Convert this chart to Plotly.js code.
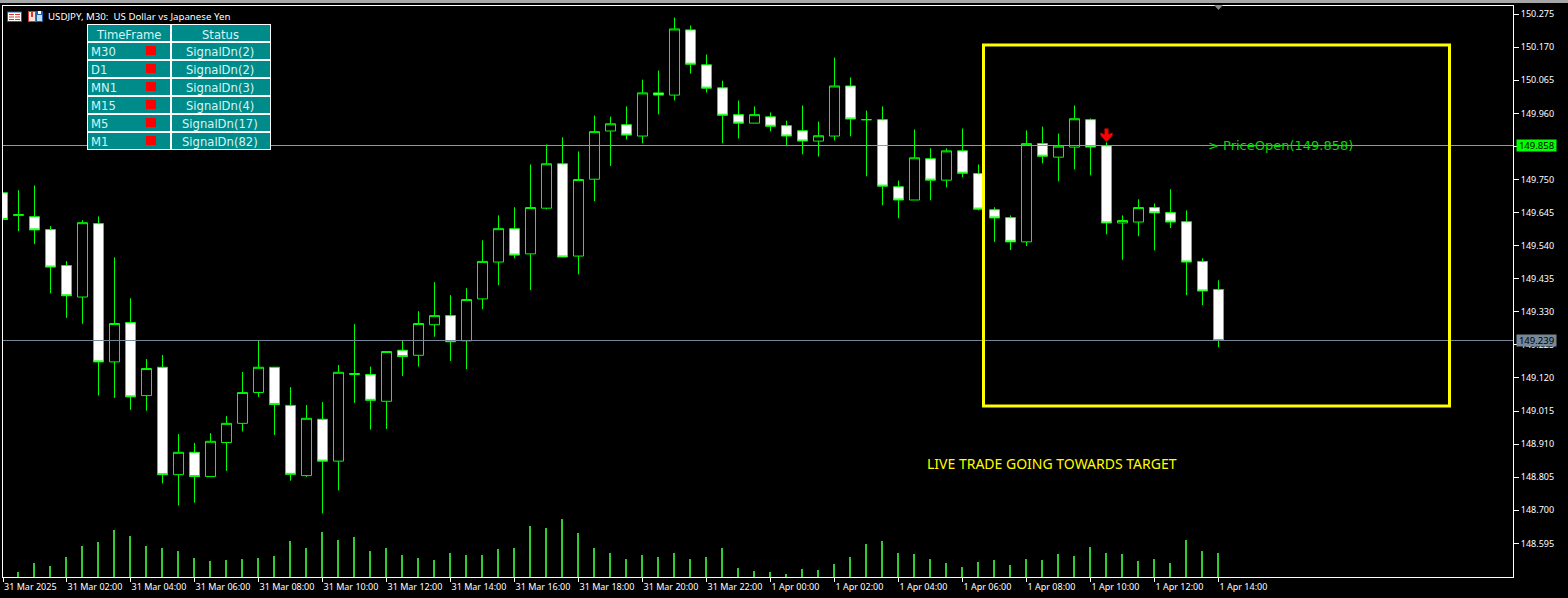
<!DOCTYPE html>
<html><head><meta charset="utf-8">
<script src="https://cdn.plot.ly/plotly-3.0.1.min.js"></script>
<style>html,body{margin:0;padding:0;background:#000;overflow:hidden}#c{width:1568px;height:598px}</style>
</head><body><div id="c"></div>
<script>
const open_ = [149.708,149.636,149.632,149.591,149.477,149.377,149.610,149.171,149.296,149.064,149.154,148.813,148.884,148.807,148.915,148.976,149.074,149.154,149.033,148.810,148.989,148.856,149.131,149.131,149.046,149.208,149.192,149.289,149.318,149.238,149.371,149.488,149.594,149.514,149.659,149.800,149.507,149.751,149.904,149.924,149.888,150.025,150.018,150.225,150.114,150.041,149.956,149.929,149.949,149.921,149.905,149.872,149.888,150.047,149.940,149.940,149.727,149.685,149.816,149.748,149.841,149.769,149.654,149.629,149.552,149.864,149.821,149.853,149.940,149.857,149.612,149.615,149.661,149.645,149.616,149.490,149.401];
const high_ = [149.709,149.716,149.731,149.602,149.491,149.621,149.633,149.503,149.373,149.180,149.193,148.942,148.914,148.945,148.999,149.139,149.240,149.155,149.091,149.034,149.044,149.161,149.291,149.156,149.205,149.240,149.332,149.424,149.383,149.405,149.557,149.636,149.662,149.798,149.861,149.884,149.839,149.953,149.950,149.982,150.067,150.096,150.264,150.239,150.147,150.064,150.001,149.982,149.963,149.937,149.985,149.934,150.137,150.074,149.969,149.982,149.747,149.909,149.849,149.849,149.912,149.798,149.662,149.636,149.906,149.918,149.896,149.985,149.944,149.868,149.636,149.687,149.674,149.719,149.652,149.500,149.430];
const low_ = [149.623,149.586,149.545,149.389,149.311,149.292,149.064,149.057,149.019,149.016,148.785,148.715,148.724,148.806,148.825,148.950,149.060,148.939,148.794,148.806,148.690,148.763,149.041,148.956,148.958,149.126,149.156,149.251,149.174,149.148,149.338,149.414,149.500,149.399,149.655,149.503,149.449,149.681,149.793,149.877,149.865,149.957,150.001,150.086,150.026,149.865,149.880,149.929,149.903,149.858,149.830,149.823,149.874,149.887,149.760,149.668,149.627,149.685,149.684,149.725,149.757,149.652,149.552,149.526,149.539,149.801,149.744,149.782,149.763,149.576,149.495,149.570,149.525,149.596,149.383,149.351,149.218];
const close_ = [149.623,149.639,149.590,149.472,149.381,149.613,149.171,149.293,149.060,149.150,148.813,148.884,148.807,148.919,148.976,149.074,149.154,149.036,148.814,148.992,148.856,149.138,149.134,149.049,149.204,149.188,149.293,149.318,149.235,149.369,149.490,149.594,149.510,149.661,149.800,149.504,149.750,149.902,149.927,149.891,150.025,150.018,150.228,150.116,150.040,149.954,149.929,149.956,149.919,149.888,149.872,149.889,150.047,149.942,149.940,149.729,149.685,149.819,149.748,149.841,149.770,149.656,149.628,149.552,149.864,149.824,149.856,149.943,149.853,149.612,149.620,149.661,149.644,149.615,149.488,149.396,149.239];
const volume = [0,5.3,14.3,11.3,20.3,31.3,35.3,47.3,41.3,31.3,29.3,26.3,19.3,16.3,17.3,18.3,19.3,21.3,36.3,29.3,45.3,37.3,40.3,26.3,29.3,22,19,17,24,22,22,28,29,51,49,58,44,29,24,18,22,20,24,18,20,29,9,6,5,3,8.3,7.3,13.3,20.3,33.3,36.3,24.3,23.3,18.3,14.3,10.3,15.3,17.3,12.3,18.3,17.3,23.3,21.3,30.3,24.3,23.3,16.3,18.3,14.3,37.3,26.3,24.3];
const priceTicks = [150.275,150.170,150.065,149.960,149.855,149.750,149.645,149.540,149.435,149.330,149.225,149.120,149.015,148.910,148.805,148.700,148.595];
const timeTickLabels = ["31 Mar 2025","31 Mar 02:00","31 Mar 04:00","31 Mar 06:00","31 Mar 08:00","31 Mar 10:00","31 Mar 12:00","31 Mar 14:00","31 Mar 16:00","31 Mar 18:00","31 Mar 20:00","31 Mar 22:00","1 Apr 00:00","1 Apr 02:00","1 Apr 04:00","1 Apr 06:00","1 Apr 08:00","1 Apr 10:00","1 Apr 12:00","1 Apr 14:00"];
const timeTickVals = ["2025-03-31 00:01","2025-03-31 02:00","2025-03-31 04:00","2025-03-31 06:00","2025-03-31 08:00","2025-03-31 10:00","2025-03-31 12:00","2025-03-31 14:00","2025-03-31 16:00","2025-03-31 18:00","2025-03-31 20:00","2025-03-31 22:00","2025-04-01 00:00","2025-04-01 02:00","2025-04-01 04:00","2025-04-01 06:00","2025-04-01 08:00","2025-04-01 10:00","2025-04-01 12:00","2025-04-01 14:00"];
const timeframes = ["M30","D1","MN1","M15","M5","M1"];
const statuses = ["SignalDn(2)","SignalDn(2)","SignalDn(3)","SignalDn(4)","SignalDn(17)","SignalDn(82)"];
const priceOpenLevel = 149.858, bidLevel = 149.239;

function pad(n){return String(n).padStart(2,'0');}
const times = open_.map((_,i)=>{const m=i*30,d=m<1440?'2025-03-31':'2025-04-01',mm=m%1440;return d+' '+pad(Math.floor(mm/60))+':'+pad(mm%60);});

const W=1568,H=598,L=3,R=1513,T=6,B=577;
const fx=p=>(p-L)/(R-L), fy=p=>1-(p-T)/(B-T);
const FONT='"Noto Sans", sans-serif', TFONT='"DejaVu Sans", sans-serif';
const box=(x0,y0,x1,y1,c)=>({type:'rect',xref:'paper',yref:'paper',x0:fx(x0),x1:fx(x1),y0:fy(y0),y1:fy(y1),fillcolor:c,line:{width:0},layer:'above'});
const tri=(pts,c)=>({type:'path',xref:'paper',yref:'paper',path:'M'+pts.map(p=>fx(p[0])+','+fy(p[1])).join('L')+'Z',fillcolor:c,line:{width:0},layer:'above'});

const shapes=[
 {type:'line',xref:'paper',yref:'y',x0:0,x1:1,y0:priceOpenLevel,y1:priceOpenLevel,line:{color:'#00FF00',width:1},layer:'above'},
 {type:'line',xref:'paper',yref:'y',x0:0,x1:1,y0:bidLevel,y1:bidLevel,line:{color:'#778899',width:1},layer:'above'},
 {type:'rect',xref:'x',yref:'y',x0:'2025-04-01 06:39:22',x1:'2025-04-01 21:13:07',y0:149.031,y1:150.1767,line:{color:'#FFFF00',width:3},fillcolor:'rgba(0,0,0,0)',layer:'above'},
 {type:'path',xref:'x',yref:'y',xsizemode:'pixel',ysizemode:'pixel',xanchor:times[69],yanchor:149.912,path:'M-2,0L2,0L2,-6L6,-4L6,-7L0,-13.5L-6,-7L-6,-4L-2,-6Z',fillcolor:'#FF0000',line:{width:0},layer:'above'},
 box(0,0,W,3,'#a6a6a6'),
 tri([[1214,5],[1223,5],[1218.5,10]],'#8a8a8a'),
 box(87,24,271,150,'#FFFFFF'),
 box(88,25,170,41,'#008B8B'), box(172,25,270,41,'#008B8B'),
 // window icons
 box(7,11.5,22,22,'#1F5FA8'), box(8,12.5,21,21,'#FFFFFF'),
 box(9,14,14,15,'#D9362B'), box(15,14,20,15,'#D9362B'), box(9,16.5,14,17.5,'#D9362B'), box(15,16.5,20,17.5,'#D9362B'), box(9,19,14,20,'#D9362B'), box(15,19,20,20,'#D9362B'),
 box(28,11,36,22,'#D9362B'), box(29,12,35,21,'#FFE3DC'), box(31,12,33,17,'#D9362B'),
 box(36,11,43,22,'#1F5FA8'), box(37,15,42,21,'#BBDDF5'), box(38,11,41,14,'#FFFFFF')
];
const ann=[];
const cellText=(x,y,t,a)=>ann.push({xref:'paper',yref:'paper',x:fx(x),y:fy(y),text:t,showarrow:false,xanchor:a,yanchor:'middle',borderpad:0,font:{family:TFONT,size:11.6,color:'#D6F5F5'}});
cellText(128.5,34.5,'TimeFrame','center');
cellText(220.5,34.5,'Status','center');
timeframes.forEach((t,i)=>{
  const y0=43+18*i;
  shapes.push(box(88,y0,170,y0+16,'#008B8B'),box(172,y0,270,y0+16,'#008B8B'),box(146,y0+3,156,y0+12,'#FF0000'));
  cellText(90,y0+9,t,'left');
  cellText(220.5,y0+9,statuses[i],'center');
});
const tag=(y,t,c)=>ann.push({xref:'paper',yref:'y',x:fx(1536.5),y:y,text:t,showarrow:false,xanchor:'center',yanchor:'middle',width:39,height:11,bgcolor:c,borderpad:0,font:{family:FONT,size:9.5,color:'#000'}});
tag(priceOpenLevel,'149.858','#00FF00');
tag(bidLevel,'149.239','#778899');
ann.push({xref:'x',yref:'y',x:'2025-04-01 13:38:15',y:priceOpenLevel,text:'&gt; PriceOpen(149.858)',showarrow:false,xanchor:'left',yanchor:'middle',borderpad:0,font:{family:TFONT,size:13,color:'#00DD00'}});
ann.push({xref:'x',yref:'y',x:'2025-04-01 08:47',y:148.847,text:'LIVE TRADE GOING TOWARDS TARGET',showarrow:false,xanchor:'center',yanchor:'middle',borderpad:0,font:{family:FONT,size:14,color:'#FFFF00'}});

const traces=[
 {type:'candlestick',x:times,open:open_,high:high_,low:low_,close:close_,xaxis:'x',yaxis:'y',
  increasing:{line:{color:'#00FF00',width:1},fillcolor:'#000000'},
  decreasing:{line:{color:'#00FF00',width:1},fillcolor:'#FFFFFF'},
  whiskerwidth:0,hoverinfo:'skip',showlegend:false},
 {type:'bar',x:times,y:volume,xaxis:'x',yaxis:'y2',width:225000,offset:-168750,marker:{color:'#32CD32',line:{width:0}},hoverinfo:'skip',showlegend:false}
];
const layout={
 width:W,height:H,paper_bgcolor:'#000',plot_bgcolor:'#000',showlegend:false,
 margin:{l:L,r:W-R,t:T,b:H-B,pad:0},
 title:{text:'USDJPY, M30:\u00A0 US Dollar vs Japanese Yen',xref:'container',yref:'container',x:48/W,xanchor:'left',y:1-17/H,yanchor:'middle',font:{family:FONT,size:9.7,color:'#FFFFFF'}},
 boxgap:0.375,boxgroupgap:0,
 xaxis:{type:'date',range:['2025-03-31 00:00:56.25','2025-04-01 23:12:11.25'],rangeslider:{visible:false},
  tickmode:'array',tickvals:timeTickVals,ticktext:timeTickLabels,ticks:'outside',ticklen:4,tickwidth:1,tickcolor:'#fff',ticklabelposition:'outside right',ticklabelshift:-1.5,ticklabelstandoff:1,ticklabeloverflow:'allow',
  showgrid:false,zeroline:false,showline:true,linecolor:'#fff',linewidth:1,mirror:true,tickfont:{family:FONT,size:9,color:'#fff'},tickangle:0},
 yaxis:{range:[148.48817,150.30086],side:'right',tickmode:'array',tickvals:priceTicks,tickformat:'.3f',ticks:'outside',ticklen:5,tickwidth:1,tickcolor:'#fff',
  showgrid:false,zeroline:false,showline:true,linecolor:'#fff',linewidth:1,mirror:true,tickfont:{family:FONT,size:9,color:'#fff'},ticklabeloverflow:'allow'},
 yaxis2:{overlaying:'y',range:[0,571],visible:false,fixedrange:true},
 shapes:shapes,annotations:ann,bargap:0
};
Plotly.newPlot('c',traces,layout,{displayModeBar:false,staticPlot:true});
</script></body></html>
